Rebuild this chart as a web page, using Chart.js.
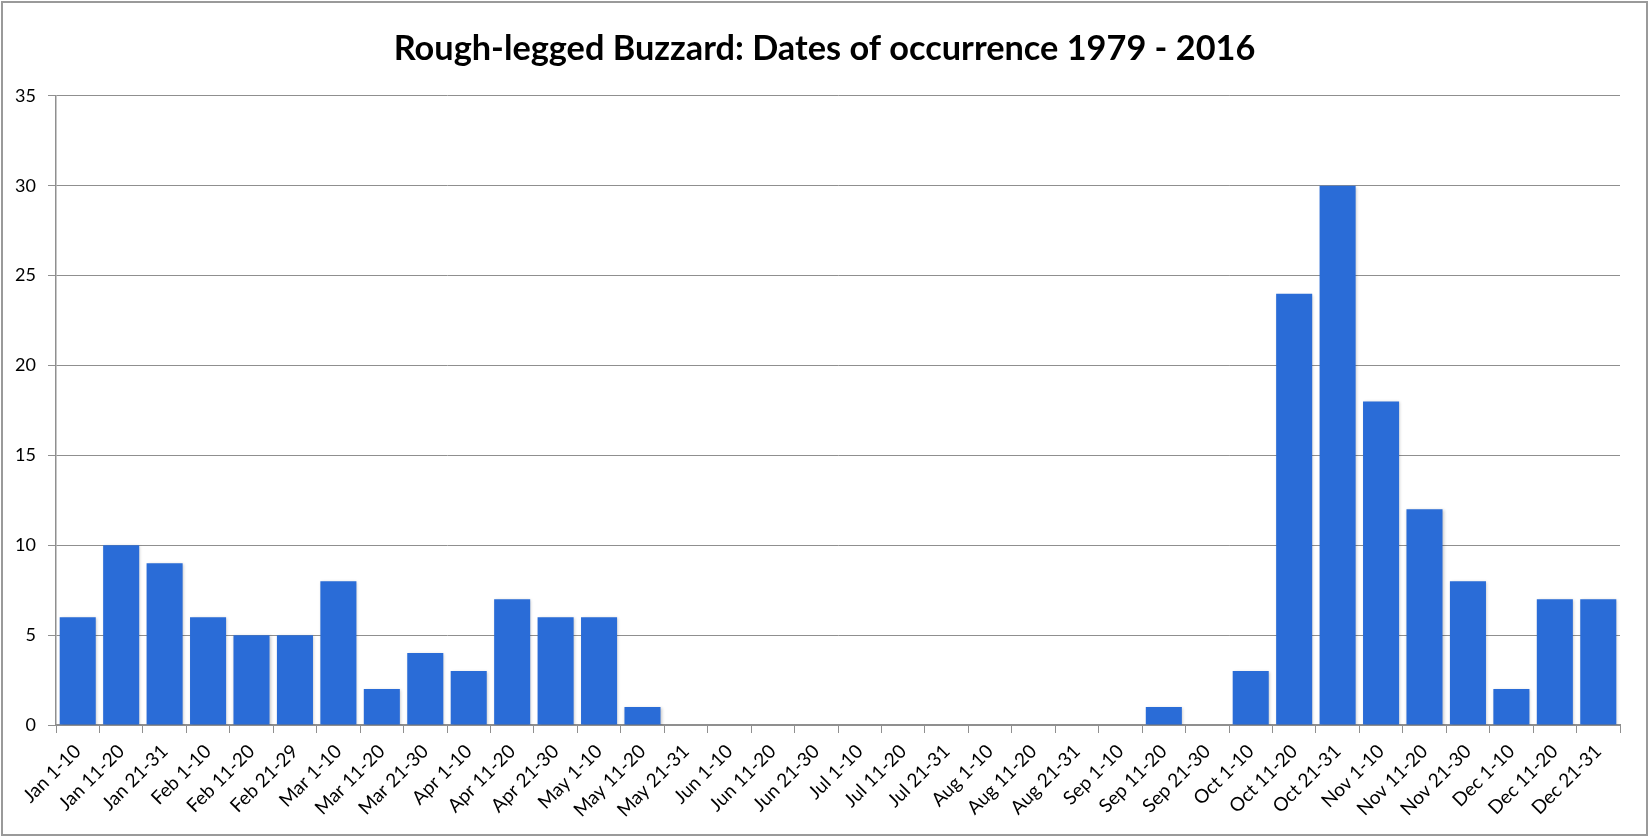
<!DOCTYPE html>
<html>
<head>
<meta charset="utf-8">
<title>Rough-legged Buzzard</title>
<script src="https://cdn.jsdelivr.net/npm/chart.js@4/dist/chart.umd.min.js"></script>
<style>
    html, body { margin: 0; padding: 0; background: #fff; }
    #marco { width: 1649px; height: 836px; position: relative; }
</style>
</head>
<body>
<div id="marco"><canvas id="graficoBuzzard" width="1649" height="836"></canvas></div>
<script>
// Periodos de diez días (eje X)
const PERIODOS = [
    'Jan 1-10', 'Jan 11-20', 'Jan 21-31', 'Feb 1-10', 'Feb 11-20', 'Feb 21-29',
    'Mar 1-10', 'Mar 11-20', 'Mar 21-30', 'Apr 1-10', 'Apr 11-20', 'Apr 21-30',
    'May 1-10', 'May 11-20', 'May 21-31', 'Jun 1-10', 'Jun 11-20', 'Jun 21-30',
    'Jul 1-10', 'Jul 11-20', 'Jul 21-31', 'Aug 1-10', 'Aug 11-20', 'Aug 21-31',
    'Sep 1-10', 'Sep 11-20', 'Sep 21-30', 'Oct 1-10', 'Oct 11-20', 'Oct 21-31',
    'Nov 1-10', 'Nov 11-20', 'Nov 21-30', 'Dec 1-10', 'Dec 11-20', 'Dec 21-31'
];

// Número de registros por periodo
const REGISTROS = [
    6, 10, 9, 6, 5, 5,
    8, 2, 4, 3, 7, 6,
    6, 1, 0, 0, 0, 0,
    0, 0, 0, 0, 0, 0,
    0, 1, 0, 3, 24, 30,
    18, 12, 8, 2, 7, 7
];

// Marcas del eje Y
const TICKS_Y = [0, 5, 10, 15, 20, 25, 30, 35];

const TITULO = 'Rough-legged Buzzard: Dates of occurrence 1979 - 2016';
const GRIS = '#8f8f8f';

// Borde gris alrededor de toda la imagen
const marcoPlugin = {
    id: 'marco',
    afterDraw(chart) {
        const ctx = chart.ctx;
        ctx.save();
        ctx.strokeStyle = '#9a9a9a';
        ctx.lineWidth = 2;
        ctx.strokeRect(2, 2, chart.width - 4, chart.height - 3);
        ctx.restore();
    }
};

// Centrar el título sobre todo el lienzo (el padding derecho lo desplaza)
const tituloPlugin = {
    id: 'tituloCentrado',
    afterLayout(chart) {
        if (chart.titleBlock) {
            chart.titleBlock.left = 0;
            chart.titleBlock.right = chart.width;
        }
    }
};

// Sombra suave bajo las barras, como en el original
const sombraPlugin = {
    id: 'sombra',
    beforeDatasetsDraw(chart) {
        const ctx = chart.ctx;
        ctx.save();
        ctx.shadowColor = 'rgba(0, 0, 0, 0.22)';
        ctx.shadowBlur = 3;
        ctx.shadowOffsetX = 1;
        ctx.shadowOffsetY = 1;
    },
    afterDatasetsDraw(chart) {
        chart.ctx.restore();
    }
};

const ctx = document.getElementById('graficoBuzzard').getContext('2d');

new Chart(ctx, {
    type: 'bar',
    data: {
        labels: PERIODOS,
        datasets: [{
            label: 'Registros',
            data: REGISTROS,
            backgroundColor: 'rgb(42, 108, 215)',
            borderWidth: 0,
            categoryPercentage: 1.0,
            barPercentage: 0.83
        }]
    },
    options: {
        responsive: false,
        animation: false,
        layout: {
            padding: { left: 0, right: 29, top: 0, bottom: 0 }
        },
        plugins: {
            legend: { display: false },
            tooltip: { enabled: false },
            title: {
                display: true,
                text: TITULO,
                color: '#000',
                font: { family: 'Lato', size: 34.3, weight: 'bold', lineHeight: 1.2 },
                padding: { top: 28.5, bottom: 26.3 }
            }
        },
        scales: {
            x: {
                grid: {
                    display: true,
                    offset: true,
                    drawOnChartArea: false,
                    drawTicks: true,
                    tickLength: 8,
                    color: GRIS
                },
                border: { display: true, color: GRIS, width: 2 },
                ticks: {
                    autoSkip: false,
                    maxRotation: 45,
                    minRotation: 45,
                    padding: 7,
                    color: '#000',
                    font: { family: 'Lato', size: 19 }
                },
                afterFit(scale) {
                    scale.height = 111;
                }
            },
            y: {
                min: 0,
                max: 35,
                afterBuildTicks(scale) {
                    scale.ticks = TICKS_Y.map(v => ({ value: v }));
                },
                grid: {
                    color: GRIS,
                    lineWidth: 1,
                    drawTicks: true,
                    tickLength: 8
                },
                border: { display: true, color: GRIS, width: 1.5 },
                ticks: {
                    padding: 12,
                    color: '#000',
                    font: { family: 'Lato', size: 18 }
                },
                afterFit(scale) {
                    scale.width = 56;
                }
            }
        }
    },
    plugins: [marcoPlugin, tituloPlugin, sombraPlugin]
});
</script>
</body>
</html>
